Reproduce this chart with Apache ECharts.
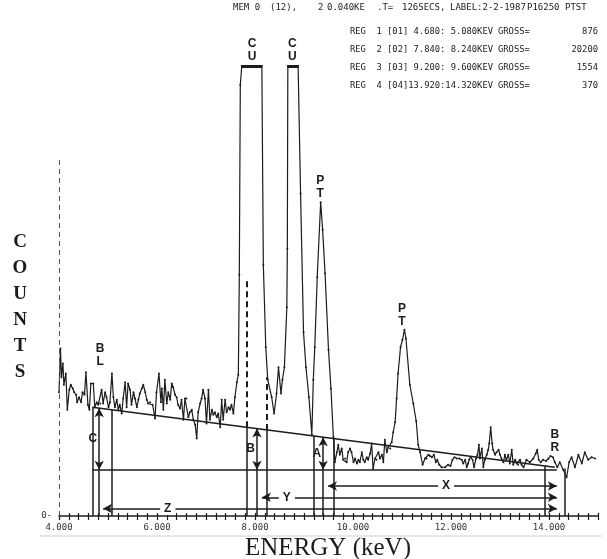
<!DOCTYPE html>
<html>
<head>
<meta charset="utf-8">
<script src="https://cdn.jsdelivr.net/npm/echarts@6/dist/echarts.min.js"></script>
<style>
  html, body { margin: 0; padding: 0; background: #fff; }
  #chart { width: 607px; height: 559px; }
</style>
</head>
<body>
<div id="chart"></div>
<script>
// spectrum, [keV, counts]
const lowNoise = [
  [4.00,99],[4.03,134],[4.05,111],[4.08,122],[4.10,105],[4.14,114],[4.17,85],[4.21,101],[4.24,105],[4.28,102],
  [4.31,99],[4.35,97],[4.37,91],[4.41,95],[4.45,91],[4.48,99],[4.52,97],[4.55,115],[4.59,89],[4.62,85],
  [4.65,106],[4.70,106],[4.73,87],[4.77,91],[4.80,89],[4.84,90],[4.87,101],[4.90,90],[4.94,99],[4.97,95],
  [5.01,87],[5.04,91],[5.08,114],[5.11,95],[5.14,87],[5.18,93],[5.21,85],[5.24,89],[5.28,82],[5.31,94],
  [5.35,107],[5.38,87],[5.41,106],[5.45,101],[5.48,89],[5.52,99],[5.55,94],[5.59,87],[5.62,93],[5.65,98],
  [5.69,102],[5.72,105],[5.76,99],[5.79,93],[5.82,90],[5.86,91],[5.91,89],[5.96,78],[5.99,99],[6.04,114],
  [6.08,91],[6.10,102],[6.13,85],[6.16,109],[6.20,90],[6.23,99],[6.27,93],[6.30,106],[6.33,103],[6.37,97],
  [6.40,95],[6.43,89],[6.47,86],[6.50,93],[6.54,77],[6.57,94],[6.60,94],[6.64,79],[6.67,83],[6.71,85],
  [6.74,77],[6.78,73],[6.81,62],[6.84,83],[6.88,90],[6.91,94],[6.94,101],[6.98,94],[7.01,74],[7.05,101],
  [7.08,77],[7.12,85],[7.15,81],[7.18,83],[7.22,79],[7.25,82],[7.29,71],[7.32,93],[7.35,77],[7.39,93],
  [7.42,83],[7.46,87],[7.49,85],[7.52,89],[7.56,82],[7.59,95],[7.63,107],[7.66,113]
];
// Cu K lines, clipped at the top of the display
const cuPeaks = [
  [7.68,193],[7.70,345],[7.73,360],[8.14,360],[8.17,201],[8.22,135],[8.26,109],[8.34,95],[8.39,82],[8.44,98],
  [8.48,119],[8.53,98],[8.56,109],[8.60,119],[8.65,167],[8.66,214],[8.67,360],[8.88,360],[8.93,258],[8.99,147],
  [9.04,119],[9.10,95],[9.16,65]
];
const ptLa = [[9.19,109],[9.22,135],[9.27,191],[9.34,251],[9.38,229],[9.43,194],[9.50,133],[9.55,102],[9.60,63]];
const midNoise = [
  [9.63,43],[9.67,51],[9.70,57],[9.73,49],[9.77,54],[9.80,45],[9.84,46],[9.87,43],[9.90,51],[9.94,54],
  [9.97,51],[10.01,43],[10.04,46],[10.08,42],[10.11,45],[10.14,43],[10.18,51],[10.21,45],[10.24,43],[10.28,47],
  [10.31,45],[10.35,50],[10.38,58],[10.41,38],[10.45,46],[10.48,45],[10.52,51],[10.55,46],[10.59,49],[10.62,43],
  [10.65,61],[10.69,51],[10.72,55],[10.76,54],[10.79,59],[10.82,67],[10.86,75]
];
const ptLb = [
  [10.89,94],[10.92,114],[10.97,135],[11.01,141],[11.05,149],[11.08,142],[11.16,105],[11.23,90],[11.29,76],
  [11.33,57],[11.37,51],[11.42,41]
];
const highNoise = [
  [11.47,46],[11.50,46],[11.54,49],[11.57,48],[11.61,47],[11.65,49],[11.69,43],[11.72,45],[11.76,41],[11.81,39],
  [11.88,39],[11.94,41],[11.99,40],[12.03,45],[12.07,47],[12.12,46],[12.17,46],[12.22,45],[12.25,42],[12.29,45],
  [12.32,39],[12.35,42],[12.37,45],[12.40,47],[12.44,45],[12.47,39],[12.51,46],[12.54,49],[12.57,57],[12.59,46],
  [12.63,54],[12.66,39],[12.69,45],[12.73,49],[12.76,53],[12.78,58],[12.81,71],[12.84,58],[12.86,53],[12.90,49],
  [12.93,51],[12.97,53],[13.00,49],[13.03,46],[13.07,43],[13.10,49],[13.13,45],[13.17,49],[13.20,42],[13.24,53],
  [13.27,41],[13.31,45],[13.34,42],[13.37,41],[13.41,45],[13.44,41],[13.48,39],[13.54,45],[13.61,43],[13.68,46],
  [13.73,50],[13.76,53],[13.79,45],[13.83,43],[13.88,45],[13.94,44],[13.99,46],[14.03,48],[14.08,47],[14.12,43],
  [14.17,39],[14.22,43],[14.29,37],[14.36,31],[14.41,43],[14.46,47],[14.53,39],[14.60,49],[14.67,42],[14.73,51],
  [14.80,45],[14.87,47],[14.94,46]
];
const spectrum = [].concat(lowNoise, cuPeaks, ptLa, midNoise, ptLb, highNoise);

// regions of interest (keV) and the printout table
const regions = [[4.68, 5.08], [7.84, 8.24], [9.20, 9.60], [13.92, 14.32]];
const regionNames = ['REG  1 [01]', 'REG  2 [02]', 'REG  3 [03]', 'REG  4 [04]'];
const regionRanges = ['4.680: 5.080KEV', '7.840: 8.240KEV', '9.200: 9.600KEV', '13.920:14.320KEV'];
const regionGross = ['876', '20200', '1554', '370'];

// background construction
const bgLeft = [4.68, 87];     // BL
const bgRight = [14.12, 39];   // BR
const refLevel = 37;
const diffMarks = [4.82, 8.04, 9.39];          // C, B, A
const diffNames = ['C', 'B', 'A'];
const spanStarts = [9.49, 8.14, 4.90];         // X, Y, Z
const spanLevels = [24, 15, 6];
const spanNames = ['X', 'Y', 'Z'];
const spanLabelAt = [11.9, 8.65, 6.22];
const spanEnd = 14.16;
const saturation = 360;
const cuCaps = [[7.73, 8.14], [8.67, 8.88]];
const roiDashTops = [189, 111];                // dashed ROI 2 markers above the background
const yAxisTop = 286;

// peak tags [keV, counts, text]
const peakTags = [[7.94, 373, 'C\nU'], [8.76, 373, 'C\nU'], [9.33, 263, 'P\nT'], [11.0, 161, 'P\nT'],
  [4.84, 129, 'B\nL'], [14.12, 60, 'B\nR']];

const ink = '#1c1c1c';
const bgAt = e => bgLeft[1] + (e - bgLeft[0]) * (bgRight[1] - bgLeft[1]) / (bgRight[0] - bgLeft[0]);
const seg = (a, b) => [{ coord: a }, { coord: b }];

const plainLines = [seg(bgLeft, bgRight), seg([regions[0][0], refLevel], [spanEnd, refLevel])];
regions.forEach(r => r.forEach(e => plainLines.push(seg([e, 0], [e, bgAt(e)]))));
diffMarks.forEach(e => plainLines.push(seg([e, 0], [e, refLevel])));

const arrowLines = diffMarks.map(e => seg([e, bgAt(e)], [e, refLevel]));
spanStarts.forEach((s, i) => arrowLines.push(seg([s, spanLevels[i]], [spanEnd, spanLevels[i]])));

const dashLines = regions[1].map((e, i) => seg([e, bgAt(e)], [e, roiDashTops[i]]));
const capLines = cuCaps.map(c => seg([c[0], saturation], [c[1], saturation]));

const tagPoints = peakTags.map(t => ({ coord: [t[0], t[1]], name: t[2] }));
const letterPoints = diffMarks.map((e, i) => ({ coord: [e - 0.13, (bgAt(e) + refLevel) / 2], name: diffNames[i] }));
const spanPoints = spanLabelAt.map((e, i) => ({ coord: [e, spanLevels[i]], name: spanNames[i] }));

const mono = '"DejaVu Sans Mono", monospace';
const graphics = [
  { type: 'text', x: 20, y: 307, style: { text: 'C\nO\nU\nN\nT\nS', font: 'bold 19px "Liberation Serif"',
    fill: ink, align: 'center', verticalAlign: 'middle', textAlign: 'center', textVerticalAlign: 'middle', lineHeight: 26 } },
  { type: 'text', x: 328, y: 548, style: { text: 'ENERGY (keV)', font: '25px "Liberation Serif"',
    fill: ink, align: 'center', verticalAlign: 'middle', textAlign: 'center', textVerticalAlign: 'middle' } },
  { type: 'line', shape: { x1: 40, y1: 536, x2: 602, y2: 536 }, style: { stroke: '#cfcfcf', lineWidth: 1 } }
];
const headerBits = [['MEM 0', 233], ['(12),', 270], ['2', 318], ['0.040KE', 327], ['.T=', 377],
  ['126SECS,', 402], ['LABEL:2-2-1987', 450], ['P16250', 527], ['PTST', 565]];
headerBits.forEach(h => graphics.push({ type: 'text', x: h[1], y: 8,
  style: { text: h[0], font: '9px ' + mono, fill: ink, verticalAlign: 'middle', textVerticalAlign: 'middle' } }));
const rowY = [32, 50, 68, 86];
regionNames.forEach((n, i) => {
  const base = { fill: ink, verticalAlign: 'middle', textVerticalAlign: 'middle', font: '8.8px ' + mono };
  graphics.push({ type: 'text', x: 350, y: rowY[i], style: Object.assign({ text: n }, base) });
  graphics.push({ type: 'text', x: 493, y: rowY[i], style: Object.assign({ text: regionRanges[i], align: 'right', textAlign: 'right' }, base) });
  graphics.push({ type: 'text', x: 498, y: rowY[i], style: Object.assign({ text: 'GROSS=' }, base) });
  graphics.push({ type: 'text', x: 598, y: rowY[i], style: Object.assign({ text: regionGross[i], align: 'right', textAlign: 'right' }, base) });
});

const lineSeries = (name, lines, style, symbol, z) => ({
  name, type: 'line', data: [], z: z || 2,
  markLine: { silent: true, animation: false, symbol: symbol || ['none', 'none'], symbolSize: [7, 9],
    lineStyle: Object.assign({ color: ink, width: 1.5, type: 'solid' }, style),
    label: { show: false }, emphasis: { disabled: true }, data: lines }
});
const textSeries = (name, points, extra) => ({
  name, type: 'line', data: [], z: 6,
  markPoint: { silent: true, animation: false, symbol: 'circle', symbolSize: 0, data: points,
    label: Object.assign({ show: true, position: 'inside', formatter: '{b}', color: ink,
      fontFamily: '"Liberation Sans", Arial, sans-serif', fontWeight: 'bold', fontSize: 12, lineHeight: 13 }, extra) }
});

const chart = echarts.init(document.getElementById('chart'));
chart.setOption({
  backgroundColor: '#fff',
  animation: false,
  grid: { left: 59, right: 9, top: 16, bottom: 43 },
  xAxis: [
    { type: 'value', min: 4, max: 15, interval: 0.2,
      axisLine: { lineStyle: { color: ink, width: 1.5 } },
      axisTick: { length: 4, lineStyle: { color: ink, width: 1.2 } },
      axisLabel: { margin: 7, color: '#333', fontFamily: mono, fontSize: 9, showMaxLabel: true,
        formatter: v => (Math.abs(v / 2 - Math.round(v / 2)) < 1e-6 && v < 15) ? v.toFixed(3) : '' },
      splitLine: { show: false } },
    { type: 'value', min: 4, max: 15, interval: 0.2, position: 'bottom',
      axisLine: { show: false }, axisLabel: { show: false }, splitLine: { show: false },
      axisTick: { inside: true, length: 3, lineStyle: { color: ink, width: 1.2 } } }
  ],
  yAxis: { type: 'value', min: 0, max: 400, interval: 400,
    axisLine: { show: false }, axisTick: { show: false }, splitLine: { show: false },
    axisLabel: { margin: 7, color: '#333', fontFamily: mono, fontSize: 9, formatter: v => v === 0 ? '0-' : '' } },
  graphic: graphics,
  series: [
    { name: 'spectrum', type: 'line', data: spectrum, z: 3, symbol: 'circle', symbolSize: 2, showAllSymbol: true,
      lineStyle: { color: ink, width: 1.2 }, itemStyle: { color: ink }, emphasis: { disabled: true } },
    lineSeries('construction', plainLines, {}),
    lineSeries('arrows', arrowLines, {}, ['arrow', 'arrow']),
    lineSeries('roi markers', dashLines, { type: [6, 4], width: 2 }),
    lineSeries('y axis', [seg([4, 0], [4, yAxisTop])], { type: [5, 4], width: 1, color: '#555' }),
    lineSeries('caps', capLines, { width: 3 }),
    textSeries('peak tags', tagPoints),
    textSeries('diff tags', letterPoints),
    textSeries('span tags', spanPoints, { backgroundColor: '#fff', padding: [0, 4] })
  ]
});
</script>
</body>
</html>
